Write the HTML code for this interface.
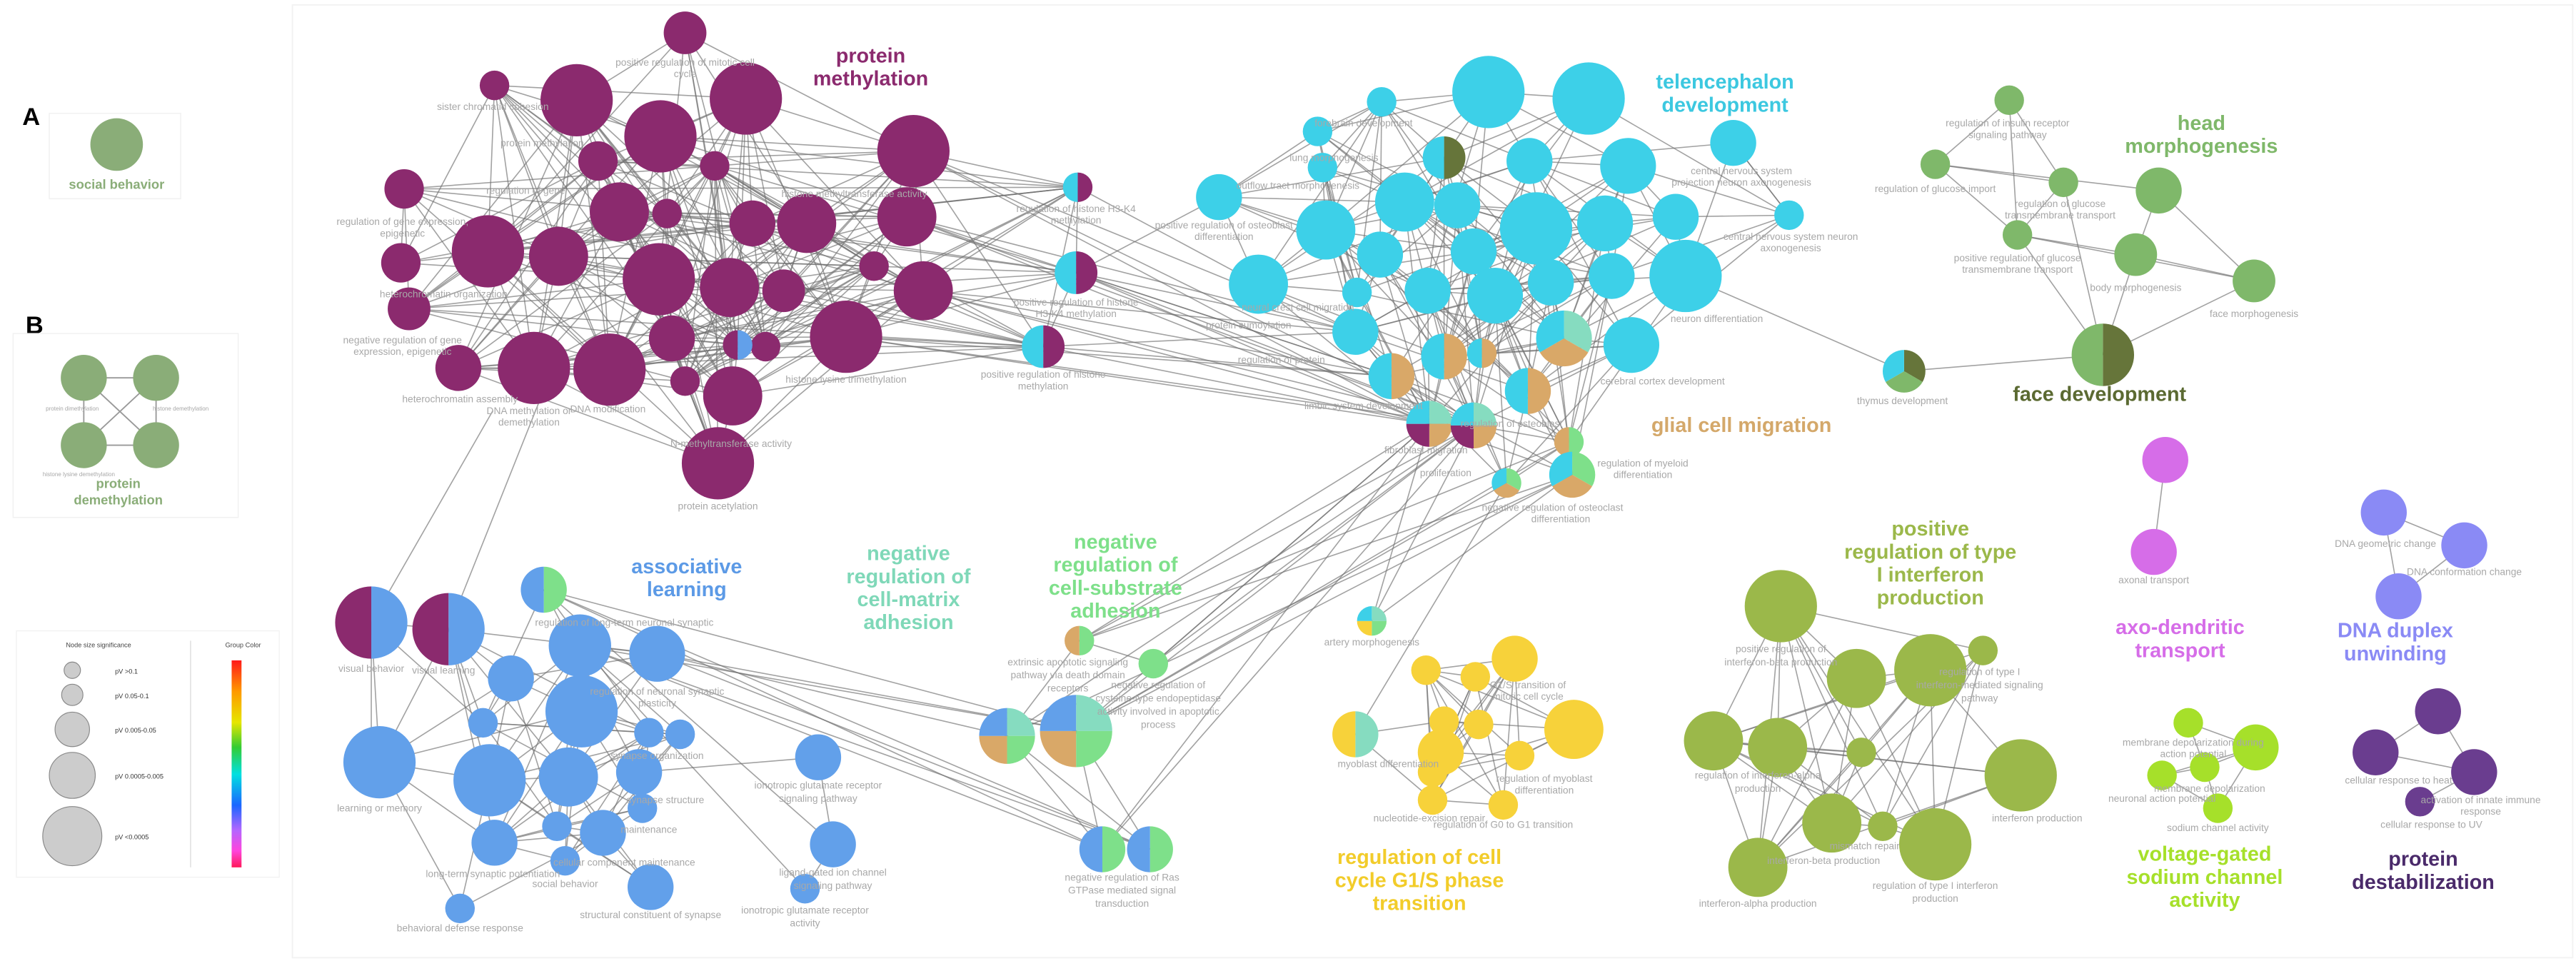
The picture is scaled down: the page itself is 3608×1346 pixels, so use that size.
<!DOCTYPE html>
<html><head><meta charset="utf-8">
<style>
html,body{margin:0;padding:0;background:#fff;width:3608px;height:1346px;overflow:hidden}
svg{display:block}
.l{font-family:"Liberation Sans",sans-serif;font-size:6px;fill:#a8a8a8;text-anchor:middle}
.t{font-family:"Liberation Sans",sans-serif;font-size:12.5px;font-weight:bold;text-anchor:middle}
</style></head>
<body>
<svg id="s" width="3608" height="1346" viewBox="0 0 1568 585" preserveAspectRatio="none" xmlns="http://www.w3.org/2000/svg">
<defs>
<linearGradient id="gc" x1="0" y1="0" x2="0" y2="1">
<stop offset="0" stop-color="#ff1a1a"/><stop offset="0.15" stop-color="#ff9900"/><stop offset="0.3" stop-color="#e6e600"/><stop offset="0.42" stop-color="#33cc33"/><stop offset="0.55" stop-color="#00e0e0"/><stop offset="0.7" stop-color="#1a66ff"/><stop offset="0.82" stop-color="#b366ff"/><stop offset="0.92" stop-color="#ff44dd"/><stop offset="1" stop-color="#ff1a5a"/>
</linearGradient>
</defs>
<rect x="178" y="3" width="1388" height="580" fill="none" stroke="#f2f2f2" stroke-width="0.8"/>
<text x="19" y="76" style="font-family:'Liberation Sans',sans-serif;font-size:15px;font-weight:bold" fill="#000" text-anchor="middle">A</text>
<rect x="30" y="69" width="80" height="52" fill="none" stroke="#f0f0f0" stroke-width="0.6"/>
<circle cx="71" cy="88" r="16" fill="#8aad78"/>
<text x="71" y="115" style="font-family:'Liberation Sans',sans-serif;font-size:8px;font-weight:bold" fill="#8aad78" text-anchor="middle">social behavior</text>
<text x="21" y="203" style="font-family:'Liberation Sans',sans-serif;font-size:15px;font-weight:bold" fill="#000" text-anchor="middle">B</text>
<rect x="8" y="203" width="137" height="112" fill="none" stroke="#f0f0f0" stroke-width="0.6"/>
<g stroke="#999" stroke-width="0.8"><line x1="51" y1="230" x2="95" y2="230"/><line x1="51" y1="271" x2="95" y2="271"/><line x1="51" y1="230" x2="95" y2="271"/><line x1="95" y1="230" x2="51" y2="271"/><line x1="51" y1="230" x2="51" y2="271"/><line x1="95" y1="230" x2="95" y2="271"/></g>
<g fill="#8aad78"><circle cx="51" cy="230" r="14"/><circle cx="95" cy="230" r="14"/><circle cx="51" cy="271" r="14"/><circle cx="95" cy="271" r="14"/></g>
<text x="44" y="250" class="l" style="font-size:3.5px">protein dimethylation</text>
<text x="110" y="250" class="l" style="font-size:3.5px">histone demethylation</text>
<text x="48" y="290" class="l" style="font-size:3.5px">histone lysine demethylation</text>
<text x="72" y="297" style="font-family:'Liberation Sans',sans-serif;font-size:8px;font-weight:bold" fill="#8aad78" text-anchor="middle">protein</text>
<text x="72" y="307" style="font-family:'Liberation Sans',sans-serif;font-size:8px;font-weight:bold" fill="#8aad78" text-anchor="middle">demethylation</text>
<rect x="10" y="384" width="160" height="150" fill="none" stroke="#f2f2f2" stroke-width="0.6"/>
<line x1="116" y1="390" x2="116" y2="528" stroke="#ddd" stroke-width="0.6"/>
<text x="60" y="394" class="l" style="font-size:4px;fill:#444">Node size significance</text>
<text x="148" y="394" class="l" style="font-size:4px;fill:#444">Group Color</text>
<g fill="#ccc" stroke="#888" stroke-width="0.5">
<circle cx="44" cy="408" r="5"/><circle cx="44" cy="423" r="6.5"/><circle cx="44" cy="444" r="10.5"/><circle cx="44" cy="472" r="14"/><circle cx="44" cy="509" r="18"/></g>
<text x="70" y="410" class="l" style="font-size:4px;fill:#333;text-anchor:start">pV &gt;0.1</text>
<text x="70" y="425" class="l" style="font-size:4px;fill:#333;text-anchor:start">pV 0.05-0.1</text>
<text x="70" y="446" class="l" style="font-size:4px;fill:#333;text-anchor:start">pV 0.005-0.05</text>
<text x="70" y="474" class="l" style="font-size:4px;fill:#333;text-anchor:start">pV 0.0005-0.005</text>
<text x="70" y="511" class="l" style="font-size:4px;fill:#333;text-anchor:start">pV &lt;0.0005</text>
<rect x="141" y="402" width="6" height="126" fill="url(#gc)"/>

<g id="edges" stroke="#707070" stroke-opacity="0.65" stroke-width="0.7"></g>
<g id="nodes"></g>

<g class="t">
<text x="530" y="38" class="t" fill="#8b2a6e">protein</text><text x="530" y="52" class="t" fill="#8b2a6e">methylation</text>
<text x="1050" y="54" class="t" fill="#3cc8e0">telencephalon</text><text x="1050" y="68" class="t" fill="#3cc8e0">development</text>
<text x="1340" y="79" class="t" fill="#7fb86a">head</text><text x="1340" y="93" class="t" fill="#7fb86a">morphogenesis</text>
<text x="1278" y="244" class="t" fill="#5b6a32">face development</text>
<text x="1060" y="263" class="t" fill="#d4a86a">glial cell migration</text>
<text x="418" y="349" class="t" fill="#5c9ae6">associative</text><text x="418" y="363" class="t" fill="#5c9ae6">learning</text>
<text x="553" y="341" class="t" fill="#7fd8b8">negative</text><text x="553" y="355" class="t" fill="#7fd8b8">regulation of</text><text x="553" y="369" class="t" fill="#7fd8b8">cell-matrix</text><text x="553" y="383" class="t" fill="#7fd8b8">adhesion</text>
<text x="679" y="334" class="t" fill="#7ee08a">negative</text><text x="679" y="348" class="t" fill="#7ee08a">regulation of</text><text x="679" y="362" class="t" fill="#7ee08a">cell-substrate</text><text x="679" y="376" class="t" fill="#7ee08a">adhesion</text>
<text x="1175" y="326" class="t" fill="#9bb84a">positive</text><text x="1175" y="340" class="t" fill="#9bb84a">regulation of type</text><text x="1175" y="354" class="t" fill="#9bb84a">I interferon</text><text x="1175" y="368" class="t" fill="#9bb84a">production</text>
<text x="1327" y="386" class="t" fill="#d66de8">axo-dendritic</text><text x="1327" y="400" class="t" fill="#d66de8">transport</text>
<text x="1458" y="388" class="t" fill="#8a8af5">DNA duplex</text><text x="1458" y="402" class="t" fill="#8a8af5">unwinding</text>
<text x="864" y="526" class="t" fill="#f2cc2a">regulation of cell</text><text x="864" y="540" class="t" fill="#f2cc2a">cycle G1/S phase</text><text x="864" y="554" class="t" fill="#f2cc2a">transition</text>
<text x="1342" y="524" class="t" fill="#a6e02a">voltage-gated</text><text x="1342" y="538" class="t" fill="#a6e02a">sodium channel</text><text x="1342" y="552" class="t" fill="#a6e02a">activity</text>
<text x="1475" y="527" class="t" fill="#4a2a6a">protein</text><text x="1475" y="541" class="t" fill="#4a2a6a">destabilization</text>
</g>
<g>
<text class="l" x="417" y="40">positive regulation of mitotic cell</text><text class="l" x="417" y="47">cycle</text>
<text class="l" x="300" y="67">sister chromatid cohesion</text>
<text class="l" x="330" y="89">protein methylation</text>
<text class="l" x="320" y="118">regulation of gene</text>
<text class="l" x="245" y="137">regulation of gene expression,</text><text class="l" x="245" y="144">epigenetic</text>
<text class="l" x="270" y="181">heterochromatin organization</text>
<text class="l" x="245" y="209">negative regulation of gene</text><text class="l" x="245" y="216">expression, epigenetic</text>
<text class="l" x="280" y="245">heterochromatin assembly</text>
<text class="l" x="322" y="252">DNA methylation or</text><text class="l" x="322" y="259">demethylation</text>
<text class="l" x="370" y="251">DNA modification</text>
<text class="l" x="445" y="272">N-methyltransferase activity</text>
<text class="l" x="437" y="310">protein acetylation</text>
<text class="l" x="515" y="233">histone lysine trimethylation</text>
<text class="l" x="520" y="120">histone methyltransferase activity</text>
<text class="l" x="655" y="129">regulation of histone H3-K4</text><text class="l" x="655" y="136">methylation</text>
<text class="l" x="655" y="186">positive regulation of histone</text><text class="l" x="655" y="193">H3-K4 methylation</text>
<text class="l" x="635" y="230">positive regulation of histone</text><text class="l" x="635" y="237">methylation</text>
<text class="l" x="830" y="77">forebrain development</text>
<text class="l" x="812" y="98">lung morphogenesis</text>
<text class="l" x="790" y="115">outflow tract morphogenesis</text>
<text class="l" x="745" y="139">positive regulation of osteoblast</text><text class="l" x="745" y="146">differentiation</text>
<text class="l" x="760" y="200">protein sumoylation</text>
<text class="l" x="790" y="189">neural crest cell migration</text>
<text class="l" x="780" y="221">regulation of protein</text>
<text class="l" x="830" y="249">limbic system development</text>
<text class="l" x="868" y="276">fibroblast migration</text>
<text class="l" x="880" y="290">proliferation</text>
<text class="l" x="920" y="260">regulation of osteoblast</text>
<text class="l" x="1000" y="284">regulation of myeloid</text><text class="l" x="1000" y="291">differentiation</text>
<text class="l" x="945" y="311">negative regulation of osteoclast</text><text class="l" x="950" y="318">differentiation</text>
<text class="l" x="1060" y="106">central nervous system</text><text class="l" x="1060" y="113">projection neuron axonogenesis</text>
<text class="l" x="1090" y="146">central nervous system neuron</text><text class="l" x="1090" y="153">axonogenesis</text>
<text class="l" x="1045" y="196">neuron differentiation</text>
<text class="l" x="1012" y="234">cerebral cortex development</text>
<text class="l" x="1158" y="246">thymus development</text>
<text class="l" x="1222" y="77">regulation of insulin receptor</text><text class="l" x="1222" y="84">signaling pathway</text>
<text class="l" x="1178" y="117">regulation of glucose import</text>
<text class="l" x="1254" y="126">regulation of glucose</text><text class="l" x="1254" y="133">transmembrane transport</text>
<text class="l" x="1228" y="159">positive regulation of glucose</text><text class="l" x="1228" y="166">transmembrane transport</text>
<text class="l" x="1300" y="177">body morphogenesis</text>
<text class="l" x="1372" y="193">face morphogenesis</text>
<text class="l" x="226" y="409">visual behavior</text>
<text class="l" x="270" y="410">visual learning</text>
<text class="l" x="380" y="381">regulation of long-term neuronal synaptic</text>
<text class="l" x="400" y="423">regulation of neuronal synaptic</text><text class="l" x="400" y="430">plasticity</text>
<text class="l" x="231" y="494">learning or memory</text>
<text class="l" x="400" y="462">synapse organization</text>
<text class="l" x="405" y="489">synapse structure</text>
<text class="l" x="395" y="507">maintenance</text>
<text class="l" x="300" y="534">long-term synaptic potentiation</text>
<text class="l" x="344" y="540">social behavior</text>
<text class="l" x="380" y="527">cellular component maintenance</text>
<text class="l" x="280" y="567">behavioral defense response</text>
<text class="l" x="396" y="559">structural constituent of synapse</text>
<text class="l" x="498" y="480">ionotropic glutamate receptor</text><text class="l" x="498" y="488">signaling pathway</text>
<text class="l" x="507" y="533">ligand-gated ion channel</text><text class="l" x="507" y="541">signaling pathway</text>
<text class="l" x="490" y="556">ionotropic glutamate receptor</text><text class="l" x="490" y="564">activity</text>
<text class="l" x="650" y="405">extrinsic apoptotic signaling</text><text class="l" x="650" y="413">pathway via death domain</text><text class="l" x="650" y="421">receptors</text>
<text class="l" x="705" y="419">negative regulation of</text><text class="l" x="705" y="427">cysteine-type endopeptidase</text><text class="l" x="705" y="435">activity involved in apoptotic</text><text class="l" x="705" y="443">process</text>
<text class="l" x="683" y="536">negative regulation of Ras</text><text class="l" x="683" y="544">GTPase mediated signal</text><text class="l" x="683" y="552">transduction</text>
<text class="l" x="835" y="393">artery morphogenesis</text>
<text class="l" x="930" y="419">G1/S transition of</text><text class="l" x="930" y="426">mitotic cell cycle</text>
<text class="l" x="845" y="467">myoblast differentiation</text>
<text class="l" x="940" y="476">regulation of myoblast</text><text class="l" x="940" y="483">differentiation</text>
<text class="l" x="870" y="500">nucleotide-excision repair</text>
<text class="l" x="915" y="504">regulation of G0 to G1 transition</text>
<text class="l" x="1084" y="397">positive regulation of</text><text class="l" x="1084" y="405">interferon-beta production</text>
<text class="l" x="1205" y="411">regulation of type I</text><text class="l" x="1205" y="419">interferon-mediated signaling</text><text class="l" x="1205" y="427">pathway</text>
<text class="l" x="1070" y="474">regulation of interferon-alpha</text><text class="l" x="1070" y="482">production</text>
<text class="l" x="1240" y="500">interferon production</text>
<text class="l" x="1135" y="517">mismatch repair</text>
<text class="l" x="1110" y="526">interferon-beta production</text>
<text class="l" x="1070" y="552">interferon-alpha production</text>
<text class="l" x="1178" y="541">regulation of type I interferon</text><text class="l" x="1178" y="549">production</text>
<text class="l" x="1311" y="355">axonal transport</text>
<text class="l" x="1452" y="333">DNA geometric change</text>
<text class="l" x="1500" y="350">DNA conformation change</text>
<text class="l" x="1335" y="454">membrane depolarization during</text><text class="l" x="1335" y="461">action potential</text>
<text class="l" x="1345" y="482">membrane depolarization</text>
<text class="l" x="1316" y="488">neuronal action potential</text>
<text class="l" x="1350" y="506">sodium channel activity</text>
<text class="l" x="1460" y="477">cellular response to heat</text>
<text class="l" x="1510" y="489">activation of innate immune</text><text class="l" x="1510" y="496">response</text>
<text class="l" x="1480" y="504">cellular response to UV</text>
</g>
</svg>
<script>
(function(){
var NS="http://www.w3.org/2000/svg";
var E=document.getElementById("edges"),N=document.getElementById("nodes");
var seed=12345;function rnd(){seed=(seed*1103515245+12345)%2147483648;return seed/2147483648;}
function line(a,b,w){var l=document.createElementNS(NS,"line");l.setAttribute("x1",a[0]);l.setAttribute("y1",a[1]);l.setAttribute("x2",b[0]);l.setAttribute("y2",b[1]);if(w)l.setAttribute("stroke-width",w);E.appendChild(l);}
function circ(n,c){var e=document.createElementNS(NS,"circle");e.setAttribute("cx",n[0]);e.setAttribute("cy",n[1]);e.setAttribute("r",n[2]);e.setAttribute("fill",c);N.appendChild(e);}
function pie(n,cols){var k=cols.length,x=n[0],y=n[1],r=n[2];for(var i=0;i<k;i++){var a0=-Math.PI/2+i*2*Math.PI/k,a1=a0+2*Math.PI/k;var p=document.createElementNS(NS,"path");p.setAttribute("d","M"+x+","+y+" L"+(x+r*Math.cos(a0))+","+(y+r*Math.sin(a0))+" A"+r+","+r+" 0 0 1 "+(x+r*Math.cos(a1))+","+(y+r*Math.sin(a1))+" Z");p.setAttribute("fill",cols[i]);N.appendChild(p);}}
function mesh(L,p,md){for(var i=0;i<L.length;i++)for(var j=i+1;j<L.length;j++){var dx=L[i][0]-L[j][0],dy=L[i][1]-L[j][1];if(Math.sqrt(dx*dx+dy*dy)<md&&rnd()<p)line(L[i],L[j]);}}
function cross(A,B,p){for(var i=0;i<A.length;i++)for(var j=0;j<B.length;j++)if(rnd()<p)line(A[i],B[j]);}
var PU="#8b2a6e",CY="#3dd0e8",TAN="#d9a868",TE="#86dcc0",LG="#7ee08a",DO="#66753a",GR="#7fb86a",BL="#62a0ea",YE="#f7d23a",OL="#9bb84a";
var P=[[417,20,13],[301,52,9],[351,61,22],[454,60,22],[402,83,22],[364,98,12],[435,101,9],[556,92,22],[246,115,12],[377,129,18],[406,130,9],[458,136,14],[491,136,18],[552,132,18],[297,153,22],[340,156,18],[244,160,12],[401,170,22],[444,175,18],[477,177,13],[532,162,9],[562,177,18],[249,188,13],[409,206,14],[466,211,9],[515,205,22],[279,224,14],[325,224,22],[371,225,22],[417,232,9],[446,241,18],[437,282,22]];
var PS=[[449,210,9],[656,114,9],[655,166,13],[635,211,13]];
var C=[[906,56,22],[967,60,22],[841,62,9],[802,80,9],[805,102,9],[1055,87,14],[931,98,14],[991,101,17],[855,123,18],[887,125,14],[935,139,22],[977,136,17],[1020,132,14],[807,140,18],[840,155,14],[897,153,14],[1089,131,9],[1026,168,22],[981,168,14],[944,172,14],[869,177,14],[826,178,9],[910,180,17],[825,202,14],[993,210,17],[742,120,14],[766,173,18]];
var CP=[[879,96,13],[952,206,17],[879,217,14],[902,215,9],[847,229,14],[930,238,14],[870,258,14],[897,259,14],[955,269,9],[957,289,14],[917,294,9]];
var G=[[1223,61,9],[1178,100,9],[1256,111,9],[1314,116,14],[1228,143,9],[1300,155,13],[1372,171,13],[1280,216,19],[1159,226,13]];
var B=[[353,393,19],[400,398,17],[311,413,14],[354,433,22],[294,440,9],[395,446,9],[414,447,9],[231,464,22],[298,475,22],[346,473,18],[389,470,14],[391,492,9],[339,503,9],[367,507,14],[301,513,14],[344,524,9],[396,540,14],[280,553,9]];
var BS=[[226,379,22],[273,383,22],[331,359,14]];
var B2=[[498,461,14],[507,514,14],[490,541,9]];
var AD=[[657,390,9],[702,404,9],[613,448,17],[655,445,22],[671,517,14],[700,517,14]];
var Y=[[922,401,14],[868,408,9],[898,412,9],[958,444,18],[879,439,9],[900,441,9],[877,458,14],[925,460,9],[872,487,9],[915,490,9],[872,470,9],[825,447,14]];
var O=[[1084,369,22],[1130,413,18],[1175,408,22],[1207,396,9],[1043,451,18],[1082,455,18],[1133,458,9],[1230,472,22],[1115,501,18],[1146,503,9],[1178,514,22],[1070,528,18]];
var M=[[1318,280,14],[1311,336,14]];
var D=[[1451,312,14],[1500,332,14],[1460,363,14]];
var V=[[1332,440,9],[1373,455,14],[1342,467,9],[1316,472,9],[1350,492,9]];
var X=[[1484,433,14],[1446,458,14],[1506,470,14],[1473,488,9]];
mesh(P.concat(PS.slice(0,1)),0.55,200);
cross(P,PS.slice(1),0.35);
line(PS[1],PS[2]);line(PS[2],PS[3]);line(PS[1],PS[3]);
mesh(C.concat(CP),0.55,140);
cross([[556,92],[562,177],[515,205],[655,166],[635,211],[552,132]],[[847,229],[870,258],[897,259],[825,202]],0.7);
line([656,114],[766,173]);line([655,166],[742,120]);
line([1026,168],[1159,226]);line([1159,226],[1280,216]);line([1055,87],[1089,131]);line([967,60],[1089,131]);
var ge=[[0,1],[0,2],[1,2],[1,4],[1,3],[2,4],[2,7],[3,5],[3,6],[4,5],[4,7],[5,7],[6,7],[5,6],[4,6],[0,4]];
ge.forEach(function(e){line(G[e[0]],G[e[1]]);});
mesh(B.concat(BS),0.45,140);
line(B2[0],B2[1]);line(B2[1],B2[2]);line(B2[0],[389,470]);line(B2[2],[353,393]);line(B2[1],[331,359]);
line([226,379],[300,250]);line([273,383],[330,240]);line([226,379],[226,464]);
cross([[331,359],[353,393],[400,398]],[[613,448],[655,445],[671,517],[700,517]],0.6);
line(AD[0],AD[1]);line(AD[0],AD[2]);line(AD[2],AD[4]);line(AD[3],AD[5]);line(AD[3],AD[4]);line(AD[2],AD[5]);
cross([[657,390],[702,404],[655,445],[613,448],[671,517]],[[917,294],[957,289],[955,269],[897,259],[870,258]],0.6);
line([835,378],[870,258]);line([835,378],[897,259]);line([825,447],[917,294]);line([835,378],[957,289]);
mesh(Y,0.6,140);
mesh(O,0.6,200);
line(M[0],M[1]);
line(D[0],D[1]);line(D[1],D[2]);line(D[0],D[2]);
line(V[0],V[1]);line(V[0],V[2]);line(V[1],V[2]);line(V[2],V[3]);line(V[1],V[3]);line(V[2],V[4]);line(V[1],V[4]);line(V[3],V[4]);
line(X[0],X[1]);line(X[0],X[2]);line(X[1],X[2]);line(X[2],X[3]);
P.forEach(function(n){circ(n,PU);});
pie(PS[0],[BL,PU]);pie(PS[1],[PU,CY]);pie(PS[2],[PU,CY]);pie(PS[3],[PU,CY]);
C.forEach(function(n){circ(n,CY);});
pie(CP[0],[DO,CY]);pie(CP[1],[TE,TAN,CY]);pie(CP[2],[TAN,CY]);pie(CP[3],[TAN,CY]);pie(CP[4],[TAN,CY]);pie(CP[5],[TAN,CY]);
pie(CP[6],[TE,TAN,PU,CY]);pie(CP[7],[TE,TAN,PU,CY]);pie(CP[8],[LG,TAN]);pie(CP[9],[LG,TAN,CY]);pie(CP[10],[LG,TAN,CY]);
G.slice(0,7).forEach(function(n){circ(n,GR);});pie(G[7],[DO,GR]);pie(G[8],[DO,GR,CY]);
B.forEach(function(n){circ(n,BL);});
pie(BS[0],[BL,PU]);pie(BS[1],[BL,PU]);pie(BS[2],[LG,BL]);
B2.forEach(function(n){circ(n,BL);});
pie(AD[0],[LG,TAN]);circ(AD[1],LG);pie(AD[2],[TE,LG,TAN,BL]);pie(AD[3],[TE,LG,TAN,BL]);pie(AD[4],[LG,BL]);pie(AD[5],[LG,BL]);
pie([835,378,9],[TE,LG,YE,CY]);
Y.slice(0,11).forEach(function(n){circ(n,YE);});pie(Y[11],[TE,YE]);
O.forEach(function(n){circ(n,OL);});
M.forEach(function(n){circ(n,"#d66de8");});
D.forEach(function(n){circ(n,"#8a8af5");});
V.forEach(function(n){circ(n,"#a6e02a");});
X.forEach(function(n){circ(n,"#6a3d8f");});
})();
</script>
</body></html>
